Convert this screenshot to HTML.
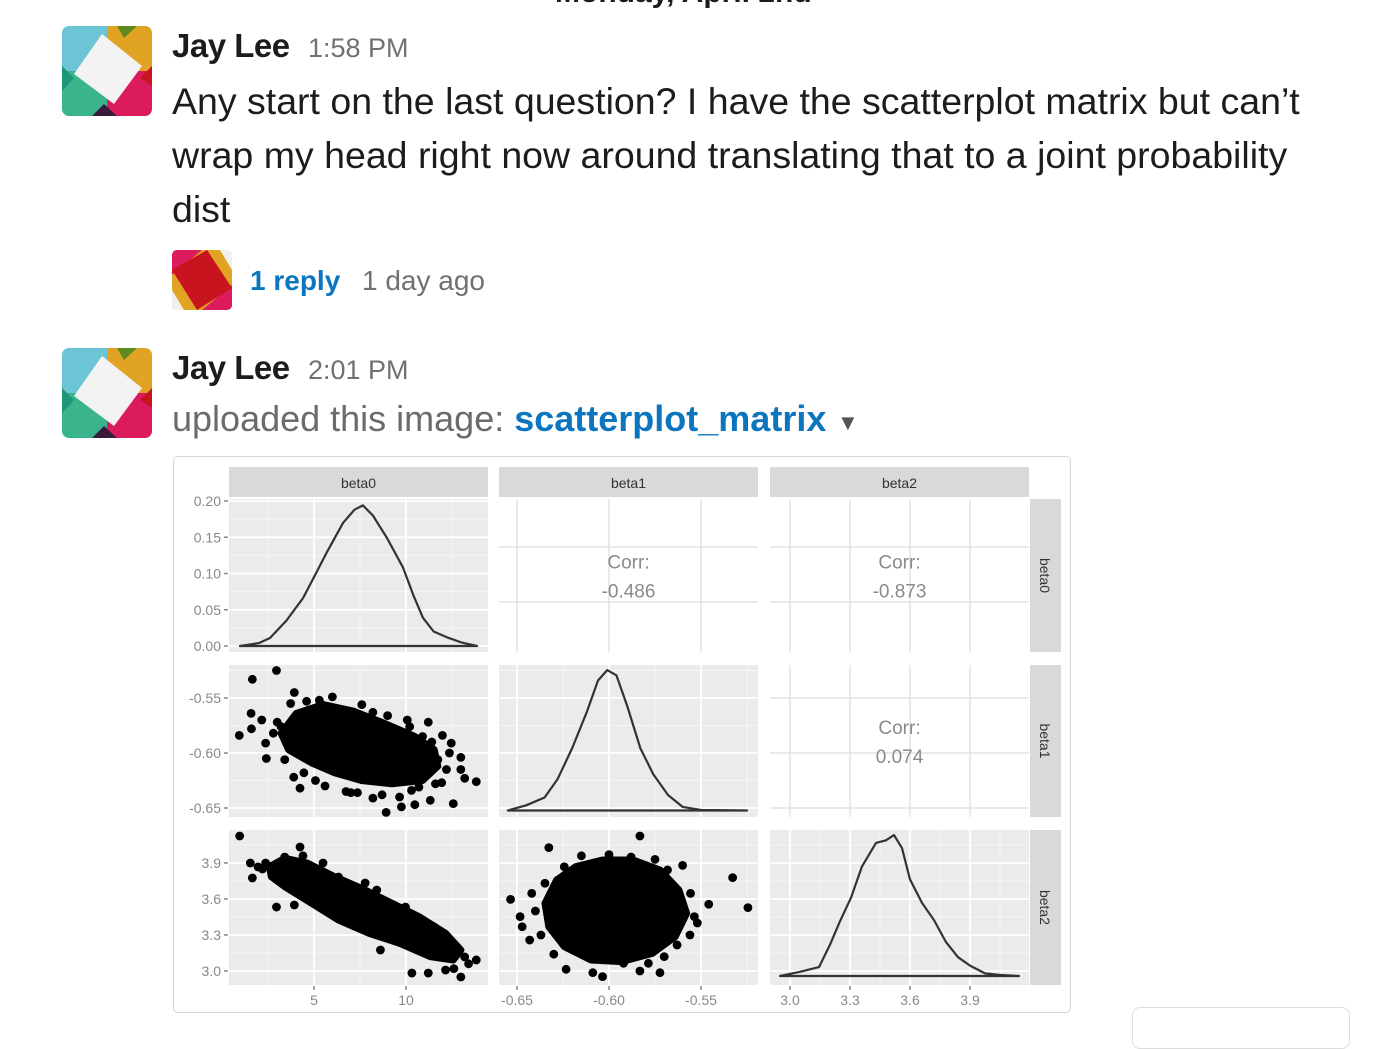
<!DOCTYPE html>
<html><head><meta charset="utf-8">
<style>
html,body{margin:0;padding:0;background:#fff;}
body{width:1380px;height:1022px;position:relative;overflow:hidden;font-family:"Liberation Sans",sans-serif;}
.abs{position:absolute;white-space:nowrap;}
.name{font-weight:bold;font-size:33px;color:#1d1c1d;letter-spacing:-0.5px;}
.time{font-size:27px;color:#717171;}
.msg{font-size:37.5px;color:#1d1c1d;}
.blue{color:#0b76bf;font-weight:bold;}
</style></head>
<body>
<div class="abs" style="left:555px;top:-24px;font-size:30px;font-weight:bold;color:#1d1c1d;">Monday, April 2nd</div>

<svg class="abs" style="left:62px;top:26px" width="90" height="90" viewBox="0 0 90 90">
 <defs><clipPath id="c1"><rect width="90" height="90" rx="7"/></clipPath></defs>
 <g clip-path="url(#c1)">
  <rect width="45" height="45" fill="#6cc5d4"/><rect x="45" width="45" height="45" fill="#e0a324"/>
  <rect y="45" width="45" height="45" fill="#3ab48c"/><rect x="45" y="45" width="45" height="45" fill="#dc1a5e"/>
  <polygon points="55,0 75,0 62,12" fill="#5f8a1f"/><polygon points="0,40 0,65 12,52" fill="#1e9678"/>
  <polygon points="90,60 90,40 78,52" fill="#c8141e"/><polygon points="30,90 55,90 42,78" fill="#3a1a3a"/>
  <polygon points="40,8 80,40 52,78 12,48" fill="#f3f3f3"/>
 </g></svg>
<div class="abs name" style="left:172px;top:27px;">Jay Lee</div>
<div class="abs time" style="left:308px;top:33px;">1:58 PM</div>
<div class="abs msg" style="left:172px;top:74px;line-height:54px;">Any start on the last question? I have the scatterplot matrix but can’t<br>wrap my head right now around translating that to a joint probability<br>dist</div>

<svg class="abs" style="left:172px;top:250px" width="60" height="60" viewBox="0 0 60 60">
 <defs><clipPath id="c2"><rect width="60" height="60" rx="5"/></clipPath></defs>
 <g clip-path="url(#c2)">
  <rect width="60" height="60" fill="#e0a324"/>
  <polygon points="0,0 30,0 0,25" fill="#dc1a5e"/><polygon points="60,60 30,60 60,35" fill="#dc1a5e"/>
  <polygon points="0,20 35,0 60,38 25,60" fill="#c8141e"/>
  <polygon points="0,40 12,60 0,60" fill="#f0f0f0"/><polygon points="60,20 48,0 60,0" fill="#f0f0f0"/>
 </g></svg>
<div class="abs" style="left:250px;top:265px;font-size:28px;font-weight:bold;color:#0b76bf;">1 reply</div>
<div class="abs time" style="left:362px;top:265px;font-size:28px;">1 day ago</div>

<svg class="abs" style="left:62px;top:348px" width="90" height="90" viewBox="0 0 90 90">
 <g clip-path="url(#c1)">
  <rect width="45" height="45" fill="#6cc5d4"/><rect x="45" width="45" height="45" fill="#e0a324"/>
  <rect y="45" width="45" height="45" fill="#3ab48c"/><rect x="45" y="45" width="45" height="45" fill="#dc1a5e"/>
  <polygon points="55,0 75,0 62,12" fill="#5f8a1f"/><polygon points="0,40 0,65 12,52" fill="#1e9678"/>
  <polygon points="90,60 90,40 78,52" fill="#c8141e"/><polygon points="30,90 55,90 42,78" fill="#3a1a3a"/>
  <polygon points="40,8 80,40 52,78 12,48" fill="#f3f3f3"/>
 </g></svg>
<div class="abs name" style="left:172px;top:349px;">Jay Lee</div>
<div class="abs time" style="left:308px;top:355px;">2:01 PM</div>
<div class="abs" style="left:172px;top:398px;font-size:36px;color:#6b6b6b;">uploaded this image: <span class="blue">scatterplot_matrix</span></div>
<div class="abs" style="left:837px;top:410px;font-size:22px;color:#555;">▼</div>

<div class="abs" style="left:173px;top:456px;width:896px;height:555px;border:1px solid #d6d6d6;border-radius:5px;"></div>
<div class="abs" style="left:1132px;top:1007px;width:216px;height:40px;border:1px solid #ddd;border-radius:8px;"></div>

<svg id="chart" class="abs" style="left:0;top:0" width="1380" height="1022"></svg>

<script>
// ---- data ----
const varNames = ["beta0","beta1","beta2"];
const corrValues = ["-0.486","-0.873","0.074"];
const xTicks0 = [5,10], xTicks1 = [-0.65,-0.60,-0.55], xTicks2 = [3.0,3.3,3.6,3.9];
const xTickLabels0 = ["5","10"], xTickLabels1 = ["-0.65","-0.60","-0.55"], xTickLabels2 = ["3.0","3.3","3.6","3.9"];
const yTicks0 = [0,0.05,0.10,0.15,0.20], yTickLabels0 = ["0.00","0.05","0.10","0.15","0.20"];
const yTicks1 = [-0.65,-0.60,-0.55], yTickLabels1 = ["-0.65","-0.60","-0.55"];
const yTicks2 = [3.0,3.3,3.6,3.9], yTickLabels2 = ["3.0","3.3","3.6","3.9"];
// densities
const dens0X = [0.98,2.0,2.61,3.5,4.4,5.0,5.71,6.58,7.2,7.66,8.2,8.97,9.84,10.4,10.92,11.5,12.23,13.0,13.86];
const dens0Y = [0,0.004,0.011,0.035,0.066,0.095,0.13,0.17,0.188,0.194,0.18,0.149,0.108,0.07,0.039,0.02,0.012,0.005,0];
const dens1X = [-0.655,-0.645,-0.635,-0.628,-0.62,-0.612,-0.606,-0.601,-0.596,-0.59,-0.583,-0.576,-0.568,-0.56,-0.55,-0.525];
const dens1Y = [0,1.0,2.5,6,12,19,25,27,26,20,12,7,3,0.7,0.1,0];
const dens2X = [2.95,3.05,3.145,3.2,3.25,3.305,3.36,3.43,3.48,3.52,3.56,3.6,3.66,3.72,3.78,3.84,3.9,3.975,4.05,4.145];
const dens2Y = [0,0.08,0.17,0.6,1.05,1.5,2.1,2.55,2.6,2.7,2.45,1.85,1.4,1.07,0.65,0.36,0.2,0.05,0.02,0];
// scatter beta0 vs beta1
const sA_x = [0.94,1.65,2.96,1.58,1.60,2.16,2.41,3.93,4.24,3.73,8.92,9.75,10.48,11.21,11.98,12.46,12.98,13.82,12.57,13.19,11.73,7.36,8.20,6.74,9.65,11.32,11.94,10.70,2.37,2.79,3.21,3.41,4.45,5.08,5.91,5.29,6.53,8.20,10.07,10.90,12.36,12.98,3.0,4.6,6.0,7.6,9.0,10.2,11.4,12.2,3.9,5.6,7.0,8.7,10.3,11.6];
const sA_y = [-0.584,-0.533,-0.525,-0.564,-0.578,-0.570,-0.605,-0.545,-0.632,-0.555,-0.654,-0.649,-0.647,-0.572,-0.584,-0.591,-0.604,-0.626,-0.646,-0.623,-0.606,-0.636,-0.641,-0.635,-0.640,-0.643,-0.627,-0.631,-0.591,-0.582,-0.576,-0.606,-0.618,-0.625,-0.561,-0.552,-0.561,-0.563,-0.570,-0.585,-0.600,-0.615,-0.572,-0.553,-0.549,-0.556,-0.566,-0.576,-0.590,-0.615,-0.622,-0.630,-0.636,-0.638,-0.634,-0.628];
const coreA_x = [3.21,4.04,5.49,7.16,8.82,10.48,11.53,11.73,10.90,9.24,7.58,6.12,4.87,3.62];
const coreA_y = [-0.582,-0.564,-0.556,-0.562,-0.573,-0.585,-0.597,-0.612,-0.625,-0.628,-0.625,-0.618,-0.609,-0.597];
// scatter beta0 vs beta2
const sB_x = [0.96,1.54,1.65,2.37,2.96,4.24,3.93,13.82,12.98,12.15,11.21,10.32,8.61,7.78,8.41,9.97,11.53,12.57,13.19,3.41,1.96,5.49,6.33,2.2,3.0,4.4,5.2,6.9,8.8,10.5,11.8,12.6,13.4];
const sB_y = [4.125,3.90,3.775,3.90,3.533,4.033,3.55,3.092,2.95,3.008,2.983,2.983,3.175,3.733,3.675,3.533,3.367,3.15,3.117,3.95,3.867,3.90,3.783,3.85,3.80,3.96,3.62,3.50,3.33,3.40,3.25,3.02,3.06];
const coreB_x = [2.58,3.41,4.66,6.12,7.58,9.24,10.70,12.15,12.98,12.57,11.32,9.65,7.99,6.33,4.87,3.41,2.68];
const coreB_y = [3.869,3.939,3.898,3.786,3.689,3.564,3.453,3.314,3.175,3.092,3.119,3.231,3.314,3.425,3.564,3.703,3.786];
// scatter beta1 vs beta2
const sC_x = [-0.6535,-0.6327,-0.5832,-0.5328,-0.5245,-0.5458,-0.563,-0.5723,-0.5832,-0.6088,-0.6035,-0.6233,-0.6431,-0.6483,-0.6472,-0.642,-0.6348,-0.6243,-0.5682,-0.5557,-0.5536,-0.5786,-0.5921,-0.615,-0.600,-0.588,-0.575,-0.560,-0.552,-0.640,-0.637,-0.630,-0.556,-0.570];
const sC_y = [3.597,4.028,4.125,3.778,3.528,3.556,3.217,2.986,3.0,2.986,2.953,3.014,3.258,3.453,3.369,3.647,3.731,3.869,3.842,3.647,3.453,3.064,3.064,3.96,3.97,3.95,3.93,3.88,3.40,3.50,3.30,3.14,3.30,3.12];
const coreC_x = [-0.6348,-0.6285,-0.6181,-0.6035,-0.5869,-0.5723,-0.562,-0.5578,-0.564,-0.5765,-0.5932,-0.6098,-0.6243,-0.6327];
const coreC_y = [3.564,3.758,3.869,3.925,3.925,3.842,3.675,3.481,3.286,3.147,3.078,3.092,3.203,3.369];

// ---- scales ----
const cols = [[229,488],[499,758],[770,1029]];
const rows = [[499,652],[665,817],[830,985]];
const xs = [v=>314+(v-5)*18.4, v=>609+(v+0.6)*1840, v=>790+(v-3.0)*200];
const ys = [v=>646-v*725, v=>753-(v+0.6)*1100, v=>971-(v-3)*120];
const yDens1 = v=>810.5-v*5.2;
const yDens2 = v=>976-v*52.2;
const xMinor = [[2.5,7.5,12.5],[-0.625,-0.575,-0.525],[3.15,3.45,3.75,4.05]];
const yMinor = [[0.025,0.075,0.125,0.175],[-0.525,-0.575,-0.625],[3.15,3.45,3.75,4.05]];
const xTicksAll=[xTicks0,xTicks1,xTicks2], yTicksAll=[yTicks0,yTicks1,yTicks2];
const xLabAll=[xTickLabels0,xTickLabels1,xTickLabels2], yLabAll=[yTickLabels0,yTickLabels1,yTickLabels2];

const NS="http://www.w3.org/2000/svg";
const svg=document.getElementById('chart');
function mk(tag,attrs,parent){const e=document.createElementNS(NS,tag);for(const k in attrs)e.setAttribute(k,attrs[k]);(parent||svg).appendChild(e);return e;}

for(let r=0;r<3;r++){for(let c=0;c<3;c++){
  const [x0,x1]=cols[c],[y0,y1]=rows[r];
  const g=mk('g',{});
  
  
  if(c>r){
    mk('rect',{x:x0,y:y0,width:x1-x0,height:y1-y0,fill:'#fff'},g);
    xTicksAll[c].forEach(t=>{const X=xs[c](t);mk('line',{x1:X,x2:X,y1:y0,y2:y1,stroke:'#e3e3e3','stroke-width':1.5},g);});
    const hl = r===0?[547,602]:[698,753,808];
    hl.forEach(Y=>mk('line',{x1:x0,x2:x1,y1:Y,y2:Y,stroke:'#e3e3e3','stroke-width':1.5},g));
    const cx=(x0+x1)/2, cy=(y0+y1)/2;
    const idx = (r===0&&c===1)?0:(r===0&&c===2)?1:2;
    const t1=mk('text',{x:cx,y:cy-7,'text-anchor':'middle','font-size':19,fill:'#8a8a8a','font-family':'Liberation Sans, sans-serif'},g);
    t1.textContent='Corr:';
    
    
    const t2=mk('text',{x:cx,y:cy+22,'text-anchor':'middle','font-size':19,fill:'#8a8a8a','font-family':'Liberation Sans, sans-serif'},g);
    t2.textContent=corrValues[idx];
    
    
  } else {
    mk('rect',{x:x0,y:y0,width:x1-x0,height:y1-y0,fill:'#ebebeb'},g);
    xMinor[c].forEach(t=>{const X=xs[c](t);if(X>x0&&X<x1)mk('line',{x1:X,x2:X,y1:y0,y2:y1,stroke:'#f6f6f6','stroke-width':1},g);});
    yMinor[r].forEach(t=>{const Y=ys[r](t);if(Y>y0&&Y<y1)mk('line',{x1:x0,x2:x1,y1:Y,y2:Y,stroke:'#f6f6f6','stroke-width':1},g);});
    xTicksAll[c].forEach(t=>{const X=xs[c](t);mk('line',{x1:X,x2:X,y1:y0,y2:y1,stroke:'#fff','stroke-width':1.8},g);});
    yTicksAll[r].forEach(t=>{const Y=ys[r](t);mk('line',{x1:x0,x2:x1,y1:Y,y2:Y,stroke:'#fff','stroke-width':1.8},g);});
  }
}}

function densPath(X,Y,xf,yf,name){
  let d='M'+X.map((v,i)=>xf(v).toFixed(1)+','+yf(Y[i]).toFixed(1)).join(' L')+' Z';
  const p=mk('path',{d:d,fill:'none',stroke:'#333','stroke-width':2.2,'stroke-linejoin':'round'});
  
  
}
densPath(dens0X,dens0Y,xs[0],ys[0],'density-beta0');
densPath(dens1X,dens1Y,xs[1],yDens1,'density-beta1');
densPath(dens2X,dens2Y,xs[2],yDens2,'density-beta2');

function scatter(px,py,cx,cy,xf,yf,name){
  const g=mk('g',{fill:'#000'});
  
  
  const pts=cx.map((v,i)=>xf(v).toFixed(1)+','+yf(cy[i]).toFixed(1)).join(' ');
  const core=mk('polygon',{points:pts,fill:'#000',stroke:'#000','stroke-width':7,'stroke-linejoin':'round'},g);
  
  
  px.forEach((v,i)=>{
    const c=mk('circle',{cx:xf(v),cy:yf(py[i]),r:4.4},g);
    
    
  });
}
scatter(sA_x,sA_y,coreA_x,coreA_y,xs[0],ys[1],'scatter-beta0-beta1');
scatter(sB_x,sB_y,coreB_x,coreB_y,xs[0],ys[2],'scatter-beta0-beta2');
scatter(sC_x,sC_y,coreC_x,coreC_y,xs[1],ys[2],'scatter-beta1-beta2');

const font='Liberation Sans, sans-serif';
for(let c=0;c<3;c++){
  const [x0,x1]=cols[c];
  const s=mk('rect',{x:x0,y:467,width:x1-x0,height:30,fill:'#d9d9d9'});
  
  
  const t=mk('text',{x:(x0+x1)/2,y:488,'text-anchor':'middle','font-size':14,fill:'#333','font-family':font});
  t.textContent=varNames[c];
  
  
}
for(let r=0;r<3;r++){
  const [y0,y1]=rows[r];
  const s=mk('rect',{x:1030,y:y0,width:31,height:y1-y0,fill:'#d9d9d9'});
  
  
  const cy=(y0+y1)/2;
  const t=mk('text',{x:1040,y:cy,'text-anchor':'middle','font-size':14,fill:'#333','font-family':font,transform:'rotate(90 1040 '+cy+')'});
  t.textContent=varNames[r];
  
  
}
for(let r=0;r<3;r++){
  yTicksAll[r].forEach((t,i)=>{
    const Y=ys[r](t);
    mk('line',{x1:224,x2:228,y1:Y,y2:Y,stroke:'#888','stroke-width':1.5});
    const tx=mk('text',{x:221,y:Y+5,'text-anchor':'end','font-size':14,fill:'#888','font-family':font});
    tx.textContent=yLabAll[r][i];
    
    
  });
}
for(let c=0;c<3;c++){
  xTicksAll[c].forEach((t,i)=>{
    const X=xs[c](t);
    mk('line',{x1:X,x2:X,y1:986,y2:990,stroke:'#888','stroke-width':1.5});
    const tx=mk('text',{x:X,y:1005,'text-anchor':'middle','font-size':14,fill:'#888','font-family':font});
    tx.textContent=xLabAll[c][i];
    
    
  });
}
</script>
</body></html>
